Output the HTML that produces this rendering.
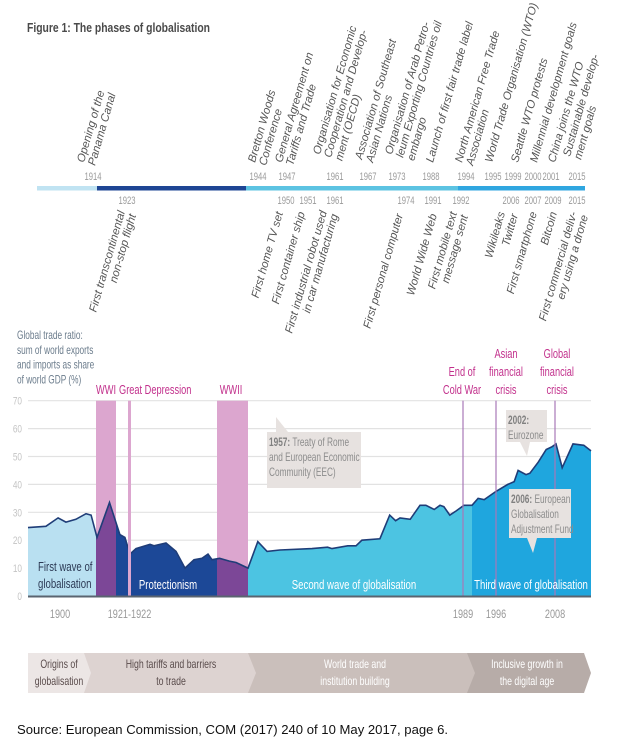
<!DOCTYPE html>
<html><head><meta charset="utf-8"><style>
html,body{margin:0;padding:0;background:#fff;}
svg{display:block;font-family:"Liberation Sans",sans-serif;}
</style></head><body>
<svg id="fig" width="620" height="745" viewBox="0 0 620 745">
<text x="27" y="32" font-size="13" font-weight="bold" fill="#4a4a4a" textLength="183" lengthAdjust="spacingAndGlyphs">Figure 1: The phases of globalisation</text>
<g id="timeline"></g>
<g id="chart"></g>
<g>
 <polygon points="467,653 584,653 591,673 584,693 467,693" fill="#b7aca8"/>
 <polygon points="248,653 467,653 475,673 467,693 248,693" fill="#cabfbb"/>
 <polygon points="84,653 248,653 256,673 248,693 84,693" fill="#ddd3d1"/>
 <polygon points="28,653 84,653 91,673 84,693 28,693" fill="#ece6e5"/>
 <g font-size="11.5" text-anchor="middle">
  <text transform="translate(59,668) scale(0.76,1)" fill="#5a4c4c"><tspan x="0">Origins of</tspan><tspan x="0" dy="17">globalisation</tspan></text>
  <text transform="translate(171,668) scale(0.76,1)" fill="#5a4c4c"><tspan x="0">High tariffs and barriers</tspan><tspan x="0" dy="17">to trade</tspan></text>
  <text transform="translate(355,668) scale(0.76,1)" fill="#fff"><tspan x="0">World trade and</tspan><tspan x="0" dy="17">institution building</tspan></text>
  <text transform="translate(527,668) scale(0.76,1)" fill="#fff"><tspan x="0">Inclusive growth in</tspan><tspan x="0" dy="17">the digital age</tspan></text>
 </g>
</g>
<text x="17" y="734" font-size="13" fill="#111" textLength="431" lengthAdjust="spacingAndGlyphs">Source: European Commission, COM (2017) 240 of 10 May 2017, page 6.</text>
</svg>
<script>
// ---- chart data ----
const years = [1890,1895.6,1899.4,1902.3,1906.2,1910.1,1912.1,1914.2,1916.7,1919.0,1920.3,1921.6,1922.8,1925.6,1926.4,1928.8,1930.8,1932.6,1934.4,1936.0,1937.2,1938.0,1939.5,1941.4,1942.7,1945.0,1947.0,1948.9,1951.5,1958.1,1961.3,1962.2,1965.4,1967.1,1968.3,1972.0,1974.0,1975.2,1976.1,1978.2,1980.2,1981.4,1983.1,1984.3,1985.1,1986.3,1987.6,1989.2,1990.9,1992.2,1993.5,1996.0,1998.4,1999.7,2000.5,2002.1,2002.9,2004.6,2006.2,2007.4,2008.2,2009.4,2011.5,2013.6,2015.0];
const tradeRatio = [24.5,25,28,26.5,27.5,29.5,29,21,33.5,22,21,15,17,18.5,18,19,16,10,13,13.5,15,13,13.5,12.5,12,10,19.5,16,16.5,17,17.5,17,18,18,20,20.5,29,27,28,27.5,32.5,32.5,31,32.5,32,29,30.5,32.5,32.5,35,34.5,37.5,40,41,45,43.5,44,48,52.5,53.5,54.5,46,54.5,54,52];
const yTicks = [0,10,20,30,40,50,60,70];
const xTickYears = [1900,1921.5,1989,1996,2008];
const xTickLabels = ["1900","1921-1922","1989","1996","2008"];
const phaseStarts = [1890,1914,1918,1939,1945,1990.9];
const phaseEnds = [1914,1918,1939,1945,1990.9,2015];
const phaseNames = ["first-wave","wwi","protectionism","wwii","second-wave","third-wave"];
const bandStarts = [1914,1939];
const bandEnds = [1918,1945];
const eventLineYears = [1921.5,1989,1996,2008];

// axis functions (the original uses a non-uniform time axis)
const xAnchorsYear = [1890,1900,1914,1918,1921.5,1939,1945,1989,1996,2008,2015];
const xAnchorsPx   = [28,60,96,116,129.5,217,248,463,496,555,591];
function X(yr){
  for(let i=0;i<xAnchorsYear.length-1;i++){
    if(yr<=xAnchorsYear[i+1]||i===xAnchorsYear.length-2){
      const a=xAnchorsYear[i],b=xAnchorsYear[i+1];
      return xAnchorsPx[i]+(yr-a)/(b-a)*(xAnchorsPx[i+1]-xAnchorsPx[i]);
    }
  }
}
function Y(v){return 596 - v*2.79;}

const NS="http://www.w3.org/2000/svg";
function mk(tag,attrs,parent){const e=document.createElementNS(NS,tag);for(const k in attrs)e.setAttribute(k,attrs[k]);parent.appendChild(e);return e;}
const chart=document.getElementById('chart');
const svg=document.getElementById('fig');
const defs=mk('defs',{},svg);

// gridlines + y labels
yTicks.forEach(v=>{
  if(v>0){
    const g=mk('line',{x1:28,x2:591,y1:Y(v),y2:Y(v),stroke:'#e2e2e2','stroke-width':1.2},chart);
    
    
  }
  const t=mk('text',{transform:'translate(22,'+(Y(v)+4)+') scale(0.75,1)','font-size':11,fill:'#c4c4c4','text-anchor':'end'},chart);
  t.textContent=v;
  
  
});

// pink war bands
bandStarts.forEach((s,i)=>{
  const r=mk('rect',{x:X(s),y:Y(70),width:X(bandEnds[i])-X(s),height:Y(0)-Y(70),fill:'#dca6cf'},chart);
  
  
});

// area path
let d='M'+X(years[0])+','+Y(0);
years.forEach((yr,i)=>{d+=' L'+X(yr).toFixed(1)+','+Y(tradeRatio[i]).toFixed(1);});
d+=' L'+X(years[years.length-1])+','+Y(0)+' Z';
const phaseColors=['#b9e0f1','#7c4797','#1c4897','#7c4797','#4cc4e2','#1fa6de'];
phaseStarts.forEach((s,i)=>{
  const cp=mk('clipPath',{id:'cp'+i},defs);
  mk('rect',{x:X(s),y:0,width:X(phaseEnds[i])-X(s),height:745},cp);
  const p=mk('path',{d:d,fill:phaseColors[i],'clip-path':'url(#cp'+i+')'},chart);
  
  
});
let ld='';
years.forEach((yr,i)=>{ld+=(i?' L':'M')+X(yr).toFixed(1)+','+Y(tradeRatio[i]).toFixed(1);});
const line=mk('path',{d:ld,fill:'none',stroke:'#1f3d78','stroke-width':1.6},chart);



// event lines
eventLineYears.forEach((yr,i)=>{
  const w = i===0?3:1.2;
  const l=mk('rect',{x:X(yr)-w/2,y:Y(70),width:w,height:Y(0)-Y(70),fill:i===0?'#dca6cf':'#a878b8'},chart);
  
  
});

// baseline
const base=mk('line',{x1:28,x2:591,y1:596.5,y2:596.5,stroke:'#5a6470','stroke-width':2},chart);



// x tick labels
xTickYears.forEach((yr,i)=>{
  const t=mk('text',{transform:'translate('+X(yr)+',618) scale(0.76,1)','font-size':12,fill:'#999','text-anchor':'middle'},chart);
  t.textContent=xTickLabels[i];
  
  
});

// static chart annotations (condensed text)
function txt(lines,x,y,opt,name){
  const t=mk('text',{transform:'translate('+x+','+y+') scale('+(opt.sx||0.74)+',1)','font-size':opt.size||12.5,fill:opt.fill,'text-anchor':opt.anchor||'start'},chart);
  lines.forEach((s,i)=>{const ts=mk('tspan',{x:0,dy:i?(opt.lh||15):0},t);ts.textContent=s;});
  
  
  return t;
}
txt(['Global trade ratio:','sum of world exports','and imports as share','of world GDP (%)'],17,339,{fill:'#6b7c8c',size:11.5,lh:14.8,sx:0.72},'y-axis-title');
txt(['WWI'],106,394,{fill:'#c2308c',anchor:'middle'},'wwi-label');
txt(['Great Depression'],119,394,{fill:'#c2308c'},'great-depression-label');
txt(['WWII'],231,394,{fill:'#c2308c',anchor:'middle'},'wwii-label');
txt(['End of','Cold War'],462,376,{fill:'#c2308c',anchor:'middle',lh:18},'cold-war-label');
txt(['Asian','financial','crisis'],506,358,{fill:'#c2308c',anchor:'middle',lh:18},'asian-crisis-label');
txt(['Global','financial','crisis'],557,358,{fill:'#c2308c',anchor:'middle',lh:18},'global-crisis-label');
txt(['First wave of','globalisation'],38,571,{fill:'#2c3a55',size:13,lh:17},'first-wave-label');
txt(['Protectionism'],168,589,{fill:'#fff',anchor:'middle',size:13},'protectionism-label');
txt(['Second wave of globalisation'],354,589,{fill:'#fff',anchor:'middle',size:13},'second-wave-label');
txt(['Third wave of globalisation'],531,589,{fill:'#fff',anchor:'middle',size:13},'third-wave-label');

// callouts
function callout(x,y,w,h,tri,bold,lines,name){
  const g=mk('g',{},chart);
  
  
  mk('rect',{x:x,y:y,width:w,height:h,fill:'#e7e2e0'},g);
  mk('polygon',{points:tri,fill:'#e7e2e0'},g);
  const t=mk('text',{transform:'translate('+(x+2)+','+(y+14)+') scale(0.72,1)','font-size':11.5,fill:'#8c8c8c'},g);
  lines.forEach((s,i)=>{
    const ts=mk('tspan',{x:0,dy:i?15:0},t);
    if(i===0&&bold){const b=mk('tspan',{'font-weight':'bold',fill:'#808080'},ts);b.textContent=bold;const r=mk('tspan',{},ts);r.textContent=s;}
    else ts.textContent=s;
  });
}
callout(267,432,94,56,'276,417 276,432 288,432','1957:',[' Treaty of Rome','and European Economic','Community (EEC)'],'callout-1957');
callout(506,410,41,32,'520,442 527,456 530,442','2002:',['','Eurozone'],'callout-2002');
callout(509,489,62,49,'527,538 533,553 537,538','2006:',[' European','Globalisation','Adjustment Fund'],'callout-2006');

// ---- timeline ----
const tl=document.getElementById('timeline');
const tlSegStart=[37,97,246,458];
const tlSegEnd=[97,246,458,585];
const tlColors=['#c0e3f2','#1e4594','#5cc3e2','#2fa6e0'];
tlSegStart.forEach((s,i)=>{
  const r=mk('rect',{x:s,y:186,width:tlSegEnd[i]-s,height:4.5,fill:tlColors[i]},tl);
  
  
});
const topYears=[["1914",93],["1944",258],["1947",287],["1961",335],["1967",368],["1973",397],["1988",431],["1994",466],["1995",493],["1999",513],["2000",533],["2001",551],["2015",577]];
const botYears=[["1923",127],["1950",286],["1951",308],["1961",335],["1974",406],["1991",433],["1992",461],["2006",511],["2007",533],["2009",553],["2015",577]];
topYears.forEach(a=>{
  const t=mk('text',{x:a[1],y:180,'font-size':11,fill:'#9a9a9a','text-anchor':'middle',textLength:17,lengthAdjust:'spacingAndGlyphs'},tl);
  t.textContent=a[0];
  
  
});
botYears.forEach(a=>{
  const t=mk('text',{x:a[1],y:204,'font-size':11,fill:'#9a9a9a','text-anchor':'middle',textLength:17,lengthAdjust:'spacingAndGlyphs'},tl);
  t.textContent=a[0];
  
  
});
const above=[
 [["Opening of the","Panama Canal"],84,163],
 [["Bretton Woods","Conference"],255,163],
 [["General Agreement on","Tariffs and Trade"],282,163],
 [["Organisation for Economic","Cooperation and Develop-","ment (OECD)"],320,155],
 [["Association of Southeast","Asian Nations"],362,160],
 [["Organisation of Arab Petro-","leum Exporting Countries oil","embargo"],392,155],
 [["Launch of first fair trade label"],433,163],
 [["North American Free Trade","Association"],462,163],
 [["World Trade Organisation (WTO)"],492,163],
 [["Seattle WTO protests"],518,163],
 [["Millennial development goals"],537,163],
 [["China joins the WTO"],555,163],
 [["Sustainable develop-","ment goals"],570,157]
];
const below=[
 [["First transcontinental","non-stop flight"],125,212],
 [["First home TV set"],283,213],
 [["First container ship"],305,213],
 [["First industrial robot used","in car manufacturing"],327,212],
 [["First personal computer"],403,215],
 [["World Wide Web"],437,215],
 [["First mobile text","message sent"],457,213],
 [["Wikileaks"],505,213],
 [["Twitter"],518,215],
 [["First smartphone"],537,213],
 [["Bitcoin"],557,213],
 [["First commercial deliv-","ery using a drone"],577,213]
];
function evLabel(item,anchor){
  const g=mk('g',{transform:'translate('+item[1]+','+item[2]+') rotate(-74)'},tl);
  
  
  const t=mk('text',{x:0,y:0,'font-size':11.3,'font-style':'italic',fill:'#555','text-anchor':anchor},g);
  item[0].forEach((s,i)=>{const ts=mk('tspan',{x:0,y:i*11.5},t);ts.textContent=s;});
}
above.forEach(a=>evLabel(a,'start'));
below.forEach(a=>evLabel(a,'end'));
</script>
</body></html>
